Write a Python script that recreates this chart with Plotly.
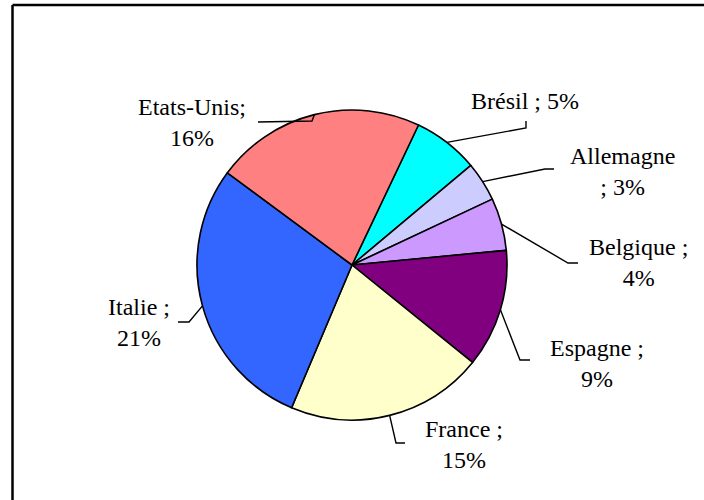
import math
import plotly.graph_objects as go

# ---- data ----
countries = ["Brésil", "Allemagne", "Belgique", "Espagne", "France", "Italie", "Etats-Unis"]
shares = [5, 3, 4, 9, 15, 21, 16]
label_texts = ["Brésil ; 5%", "Allemagne<br>; 3%", "Belgique ;<br>4%", "Espagne ;<br>9%",
               "France ;<br>15%", "Italie ;<br>21%", "Etats-Unis;<br>16%"]

# ---- style / layout ----
colors = ["#00FFFF", "#CCCCFF", "#CC99FF", "#800080", "#FFFFCC", "#3366FF", "#FF8080"]
W, H = 704, 500
CX, CY, R = 352, 265, 155
ROTATION = 25.4
FONT = dict(family="Liberation Serif, Times New Roman, serif", size=24, color="black")

# label placement (pixels): text centre, elbow of leader line, end of leader line
label_layout = {
    "Brésil": dict(text=(525, 101), elbow=(526, 128), end=(526, 121)),
    "Allemagne": dict(text=(622, 171), elbow=(545, 169), end=(554, 169)),
    "Belgique": dict(text=(638, 262), elbow=(568, 263), end=(578, 263)),
    "Espagne": dict(text=(597, 363), elbow=(520, 360), end=(530, 360)),
    "France": dict(text=(464, 444), elbow=(396, 443), end=(405, 443)),
    "Italie": dict(text=(139, 322), elbow=(189, 322), end=(178, 322)),
    "Etats-Unis": dict(text=(192, 122), elbow=(312, 121), end=(258, 122)),
}


def px(x):
    return x / W


def py(y):
    return 1 - y / H


fig = go.Figure(go.Pie(
    labels=countries,
    values=shares,
    sort=False,
    direction="clockwise",
    rotation=ROTATION,
    marker=dict(colors=colors, line=dict(color="black", width=1.6)),
    textinfo="none",
    hoverinfo="label+value",
    showlegend=False,
    domain=dict(x=[px(CX - R), px(CX + R)], y=[py(CY + R), py(CY - R)]),
))

shapes = []
annotations = []
total = sum(shares)
cum = 0
for name, v, txt in zip(countries, shares, label_texts):
    theta = math.radians(ROTATION + 360 * (cum + v / 2) / total)
    cum += v
    ax, ay = CX + R * math.sin(theta), CY - R * math.cos(theta)
    lay = label_layout[name]
    ex, ey = lay["elbow"]
    fx, fy = lay["end"]
    path = f"M {px(ax)} {py(ay)} L {px(ex)} {py(ey)} L {px(fx)} {py(fy)}"
    shapes.append(dict(type="path", xref="paper", yref="paper", path=path,
                       line=dict(color="black", width=1.4)))
    tx, ty = lay["text"]
    annotations.append(dict(x=px(tx), y=py(ty), xref="paper", yref="paper",
                            text=txt, showarrow=False, xanchor="center", yanchor="middle",
                            align="center", font=FONT))

# chart frame (top and left edges visible)
shapes.append(dict(type="line", xref="paper", yref="paper",
                   x0=px(12.5), y0=py(5), x1=1.02, y1=py(5), line=dict(color="black", width=2.5)))
shapes.append(dict(type="line", xref="paper", yref="paper",
                   x0=px(12.5), y0=py(5), x1=px(12.5), y1=-0.02, line=dict(color="black", width=2.5)))

fig.update_layout(
    width=W, height=H,
    margin=dict(l=0, r=0, t=0, b=0),
    paper_bgcolor="white", plot_bgcolor="white",
    shapes=shapes, annotations=annotations,
    font=FONT,
)

fig.write_html("out.html", config={"displayModeBar": False},
               post_script="document.body.style.margin='0';")
